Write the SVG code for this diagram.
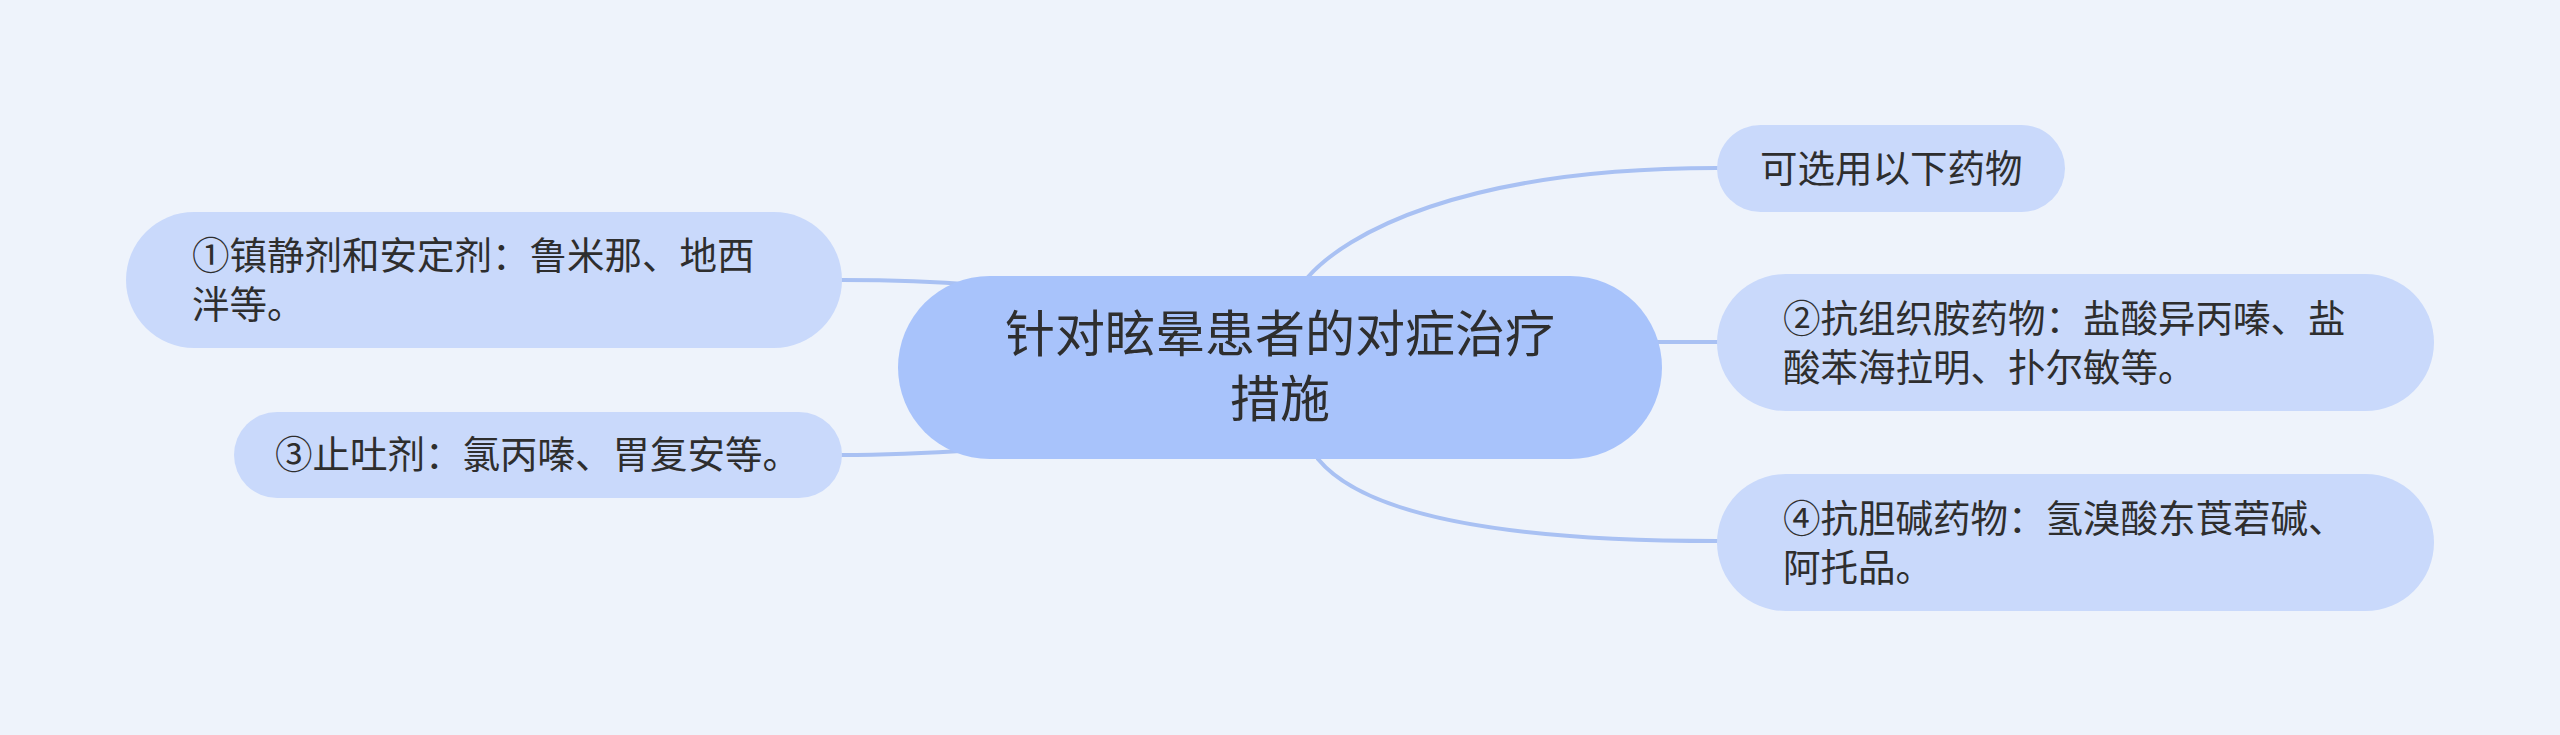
<svg xmlns="http://www.w3.org/2000/svg" width="2560" height="735" viewBox="0 0 2560 735">
  <style>
    .bg { fill: #EEF3FB; }
    .root { fill: #A8C3FB; }
    .child { fill: #C9D9FB; }
    .edge { fill: none; stroke: #A9C1F3; stroke-width: 4; stroke-linecap: round; }
    .t { font-family: "Noto Sans CJK SC", "Noto Sans", sans-serif; fill: #2E2E2E; }
    .tc { font-size: 50px; text-anchor: middle; }
    .tn { font-size: 37.5px; }
  </style>
  <rect class="bg" x="0" y="0" width="2560" height="735"/>
  <g id="connectors">
    <path class="edge" d="M1308,277 C1345,235 1460,168 1717,168"/>
    <path class="edge" d="M1640,342 L1717,342"/>
    <path class="edge" d="M1318,459 C1360,510 1480,541 1717,541"/>
    <path class="edge" d="M842,280 C880,280 930,281 975,285"/>
    <path class="edge" d="M842,455 C880,455 930,453 975,450"/>
  </g>
  <g id="root">
    <rect class="root" x="898" y="276" width="764" height="183" rx="91.5" ry="91.5"/>
    <text class="t tc"><tspan x="1280" y="352">针对眩晕患者的对症治疗</tspan><tspan x="1280" y="417">措施</tspan></text>
  </g>
  <g id="node-top">
    <rect class="child" x="1717" y="125" width="348" height="87" rx="43.5" ry="43.5"/>
    <text class="t tn" x="1760" y="182">可选用以下药物</text>
  </g>
  <g id="node-2">
    <rect class="child" x="1717" y="274" width="717" height="137" rx="68.5" ry="68.5"/>
    <text class="t tn"><tspan x="1783" y="332">②抗组织胺药物：盐酸异丙嗪、盐</tspan><tspan x="1783" y="381">酸苯海拉明、扑尔敏等。</tspan></text>
  </g>
  <g id="node-4">
    <rect class="child" x="1717" y="474" width="717" height="137" rx="68.5" ry="68.5"/>
    <text class="t tn"><tspan x="1783" y="532">④抗胆碱药物：氢溴酸东莨菪碱、</tspan><tspan x="1783" y="581">阿托品。</tspan></text>
  </g>
  <g id="node-1">
    <rect class="child" x="126" y="212" width="716" height="136" rx="68" ry="68"/>
    <text class="t tn"><tspan x="192" y="269">①镇静剂和安定剂：鲁米那、地西</tspan><tspan x="192" y="318">泮等。</tspan></text>
  </g>
  <g id="node-3">
    <rect class="child" x="234" y="412" width="608" height="86" rx="43" ry="43"/>
    <text class="t tn" x="275" y="468">③止吐剂：氯丙嗪、胃复安等。</text>
  </g>
</svg>
